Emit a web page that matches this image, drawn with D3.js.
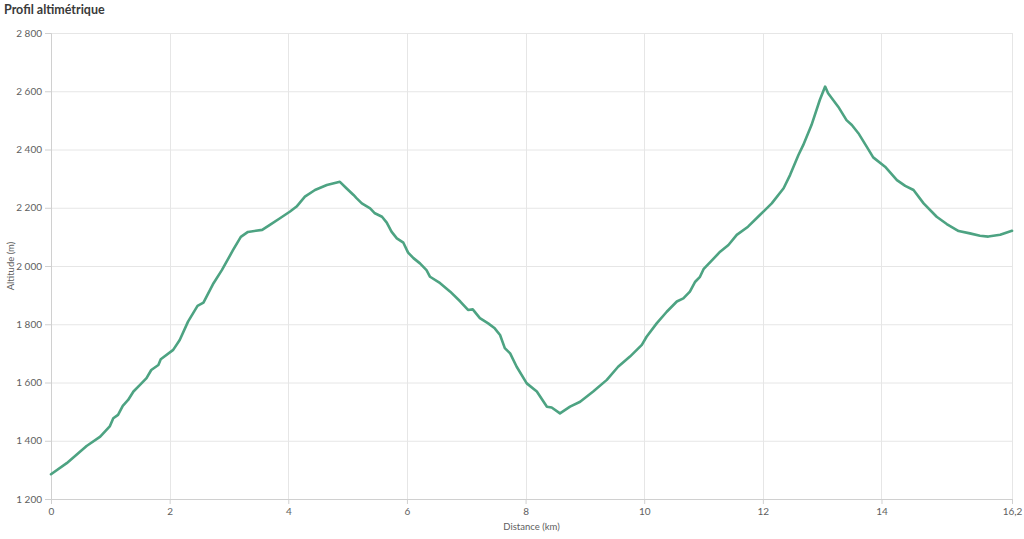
<!DOCTYPE html>
<html><head><meta charset="utf-8">
<script src="https://cdn.jsdelivr.net/npm/d3@7"></script>
<style>body{margin:0;background:#fff;}svg{display:block;}</style>
</head><body><svg id="c" width="1024" height="539"></svg>
<script>
const distanceKm = [0,0.265,0.6,0.83,0.99,1.05,1.13,1.21,1.3,1.39,1.5,1.61,1.69,1.81,1.85,2.06,2.17,2.31,2.47,2.57,2.74,2.88,3.07,3.2,3.32,3.56,3.69,3.86,4.03,4.14,4.28,4.45,4.65,4.87,4.98,5.1,5.15,5.24,5.38,5.46,5.58,5.66,5.74,5.83,5.94,6.02,6.11,6.22,6.33,6.39,6.56,6.73,6.9,7.03,7.11,7.23,7.37,7.48,7.57,7.65,7.74,7.85,8.02,8.19,8.36,8.44,8.58,8.75,8.92,9.14,9.37,9.56,9.76,9.96,10.04,10.21,10.38,10.55,10.66,10.77,10.86,10.94,11.0,11.28,11.42,11.56,11.75,11.95,12.15,12.35,12.46,12.6,12.68,12.82,12.96,13.05,13.1,13.27,13.41,13.5,13.61,13.75,13.86,14.06,14.26,14.4,14.54,14.71,14.93,15.1,15.3,15.49,15.66,15.8,16.0,16.2];
const altitudeM = [1285,1323,1382,1414,1449,1477,1489,1520,1540,1569,1592,1615,1643,1660,1680,1712,1746,1809,1863,1874,1941,1986,2055,2100,2117,2124,2141,2164,2187,2204,2238,2261,2278,2289,2267,2244,2233,2215,2198,2181,2169,2149,2118,2095,2080,2046,2027,2009,1986,1963,1941,1912,1878,1849,1851,1821,1803,1786,1763,1718,1700,1654,1597,1569,1517,1514,1494,1517,1534,1569,1609,1654,1689,1729,1757,1803,1843,1878,1889,1912,1946,1963,1989,2049,2072,2107,2135,2175,2215,2267,2313,2381,2415,2484,2570,2616,2593,2547,2501,2484,2456,2410,2373,2341,2295,2275,2261,2215,2169,2144,2120,2112,2104,2101,2107,2121];
const xTicks = [0,2,4,6,8,10,12,14,16.2];
const yTicks = [1200,1400,1600,1800,2000,2200,2400,2600,2800];
const title = "Profil altimétrique";
const xTitle = "Distance (km)";
const yTitle = "Altitude (m)";

const svg = d3.select("#c");
const m = {l:51, r:1012, t:33, b:499};
const x = d3.scaleLinear().domain([0,16.2]).range([m.l, m.r]);
const y = d3.scaleLinear().domain([1200,2800]).range([m.b, m.t]);
const loc = d3.formatLocale({decimal:",", thousands:"\u00a0", grouping:[3], currency:["","€"]});
const fy = loc.format(",d");
const fx = d => loc.format(",")(d);
const font = "Lato, sans-serif";

svg.append("text").attr("x",4).attr("y",14).text(title)
  .attr("font-family",font).attr("font-weight",700).attr("font-size",12.5).attr("fill","#3a3a3a");

// grid
const g = svg.append("g");
g.selectAll(".hg").data(yTicks.slice(1)).join("line")
  .attr("x1",m.l).attr("x2",m.r).attr("y1",d=>y(d)+0.5).attr("y2",d=>y(d)+0.5)
  .attr("stroke","#e6e6e6").attr("stroke-width",1);
g.selectAll(".vg").data(xTicks.slice(1)).join("line")
  .attr("x1",d=>Math.round(x(d))+0.5).attr("x2",d=>Math.round(x(d))+0.5).attr("y1",m.t).attr("y2",m.b)
  .attr("stroke","#e6e6e6").attr("stroke-width",1);

// axes
const ya = svg.append("g").attr("transform",`translate(${m.l},0)`)
  .call(d3.axisLeft(y).tickValues(yTicks).tickFormat(fy).tickSize(6).tickPadding(3));
const xa = svg.append("g").attr("transform",`translate(0,${m.b})`)
  .call(d3.axisBottom(x).tickValues(xTicks).tickFormat(fx).tickSize(5).tickPadding(4));
[ya,xa].forEach(a=>{
  a.select(".domain").attr("stroke","#d0d0d0");
  a.selectAll(".tick line").attr("stroke","#d0d0d0");
  a.selectAll("text").attr("font-family",font).attr("font-size",10).attr("fill","#606060");
});

svg.append("text").attr("transform",`translate(14,${(m.t+m.b)/2}) rotate(-90)`).attr("text-anchor","middle")
  .text(yTitle).attr("font-family",font).attr("font-size",9.5).attr("fill","#606060");
svg.append("text").attr("x",(m.l+m.r)/2).attr("y",530).attr("text-anchor","middle")
  .text(xTitle).attr("font-family",font).attr("font-size",9.5).attr("fill","#606060");

const line = d3.line().x((d,i)=>x(distanceKm[i])).y(d=>y(d)).curve(d3.curveLinear);
svg.append("path").datum(altitudeM).attr("d",line).attr("fill","none")
  .attr("stroke","#4da382").attr("stroke-width",2.6).attr("stroke-linejoin","round").attr("stroke-linecap","round");
</script></body></html>
